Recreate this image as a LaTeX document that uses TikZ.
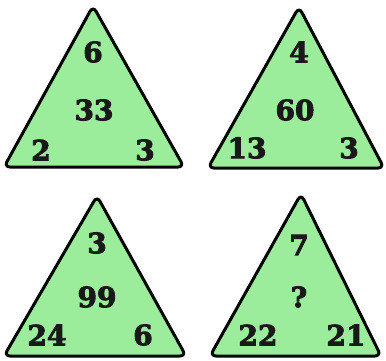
\documentclass[tikz,border=0pt]{standalone}
\usepackage{fontspec}
\newfontfamily\numfont[FakeBold=3]{DejaVu Serif Bold}
\definecolor{trigreen}{RGB}{155,236,155}
\tikzset{
  tri/.style={draw=black, fill=trigreen, line width=3pt, rounded corners=6pt, line join=round},
  num/.style={font=\numfont\fontsize{28}{28}\selectfont, text=black!90, inner sep=0pt}
}
\begin{document}
\begin{tikzpicture}[x=1pt,y=-1pt]
\useasboundingbox (0,0) rectangle (386,360);
% triangle 1
\coordinate (a1) at (93,6); \coordinate (b1) at (4,167); \coordinate (c1) at (184,167);
\draw[tri] (a1) -- (b1) -- (c1) -- cycle;
\node[num] (t1a) at (93,52) {6};
\node[num] (t1m) at (94,110) {33};
\node[num] (t1l) at (41,150) {2};
\node[num] (t1r) at (145,150) {3};
% triangle 2
\coordinate (a2) at (299,7); \coordinate (b2) at (208,168); \coordinate (c2) at (384,168);
\draw[tri] (a2) -- (b2) -- (c2) -- cycle;
\node[num] (t2a) at (299,52) {4};
\node[num] (t2m) at (295,110) {60};
\node[num] (t2l) at (247,148) {13};
\node[num] (t2r) at (349,148) {3};
% triangle 3
\coordinate (a3) at (97,196); \coordinate (b3) at (4,356); \coordinate (c3) at (186,356);
\draw[tri] (a3) -- (b3) -- (c3) -- cycle;
\node[num] (t3a) at (97,243) {3};
\node[num] (t3m) at (97,297) {99};
\node[num] (t3l) at (47,335) {24};
\node[num] (t3r) at (143,335) {6};
% triangle 4
\coordinate (a4) at (301,194); \coordinate (b4) at (210,356); \coordinate (c4) at (381,356);
\draw[tri] (a4) -- (b4) -- (c4) -- cycle;
\node[num] (t4a) at (299,245) {7};
\node[num] (t4m) at (299,297) {?};
\node[num] (t4l) at (258,335) {22};
\node[num] (t4r) at (346,335) {21};
\end{tikzpicture}
\end{document}
